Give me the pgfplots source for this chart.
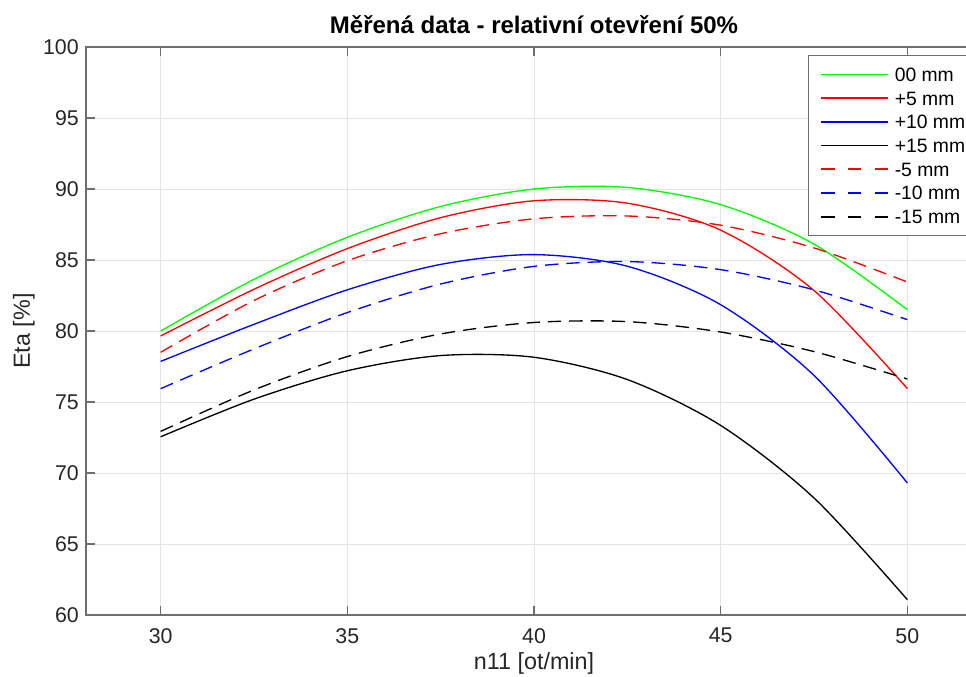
\documentclass[border=0pt]{standalone}
\usepackage{fontspec}
\setmainfont{Liberation Sans}
\usepackage{pgfplots}
\pgfplotsset{compat=1.18}
\usetikzlibrary{calc}

\definecolor{lineGreen}{RGB}{0,255,0}
\definecolor{lineRed}{RGB}{255,0,0}
\definecolor{lineBlue}{RGB}{0,0,255}
\definecolor{lineBlack}{RGB}{0,0,0}
\definecolor{axisGrey}{HTML}{6e6e6e}
\definecolor{gridGrey}{HTML}{e3e3e3}
\definecolor{tickInk}{HTML}{262626}

% legend samples as coloured rules
\newcommand{\legsolid}[1]{\textcolor{#1}{\rule[-0.6pt]{50pt}{1.2pt}}}
\newcommand{\legdash}[1]{\textcolor{#1}{\rule[-0.6pt]{10pt}{1.2pt}\hspace{10pt}%
  \rule[-0.6pt]{10pt}{1.2pt}\hspace{10pt}\rule[-0.6pt]{10pt}{1.2pt}}}

\pgfplotsset{
  solidline/.style={line width=1pt, smooth},
  dashline/.style={line width=1pt, smooth, dash pattern=on 10pt off 6pt},
  legimg/.style={legend image code/.code={%
    \node[inner sep=0pt, text height=0.6pt, text depth=0.6pt, anchor=base west]
      at (0pt,0pt) {#1};}},
}

\begin{document}
\begin{tikzpicture}
\begin{axis}[
  name=ax,
  scale only axis,
  width=672pt, height=426pt,
  xmin=28, xmax=52, ymin=60, ymax=100,
  xtick={30,35,...,50}, ytick={60,65,...,100},
  tick align=inside, major tick length=6.75pt,
  axis line style={draw=axisGrey, line width=0.9pt},
  tick style={draw=axisGrey, line width=0.8pt},
  grid=major, grid style={draw=gridGrey, line width=0.7pt},
  /pgf/number format/assume math mode=true,
  ticklabel style={font=\fontsize{16}{19}\selectfont, text=tickInk},
  xticklabel style={inner sep=0pt, anchor=north, yshift=-9.75pt},
  yticklabel style={inner sep=0pt, anchor=east, xshift=-5.25pt},
  title={\textbf{Měřená data - relativní otevření 50\%}},
  title style={at={(axis description cs:0.5,1)}, anchor=base, yshift=4pt,
    font=\fontsize{18}{21}\selectfont},
  xlabel={n11 [ot/min]},
  xlabel style={at={(axis description cs:0.5,0)}, anchor=base, yshift=-41pt,
    font=\fontsize{17.5}{20}\selectfont, text=tickInk},
  ylabel={Eta [\%]},
  ylabel style={at={($(axis description cs:0,0.5)+(-42pt,0pt)$)}, anchor=base,
    font=\fontsize{17.5}{20}\selectfont, text=tickInk},
  legend cell align=left,
  legend style={at={(axis description cs:1,1)}, anchor=north east,
    xshift=-2.25pt, yshift=-6pt,
    draw=axisGrey, line width=0.8pt, fill=white,
    font=\fontsize{14.5}{17}\selectfont,
    inner xsep=10pt, inner ysep=5.2pt, row sep=0pt, column sep=5pt,
    nodes={inner sep=0pt, text height=10.5pt, text depth=0pt, inner ysep=3.65pt}},
]
\addplot[lineGreen, solidline, forget plot] coordinates {
  (30,80.0) (32.5,83.64) (35,86.6) (37.5,88.77) (40,90.0)
  (42.5,90.11) (45,88.9) (47.5,86.12) (50,81.5)};
\addplot[lineRed, solidline, forget plot] coordinates {
  (30,79.65) (32.5,82.94) (35,85.8) (37.5,87.98) (40,89.17)
  (42.5,89.0) (45,87.1) (47.5,82.85) (50,75.95)};
\addplot[lineBlue, solidline, forget plot] coordinates {
  (30,77.86) (32.5,80.47) (35,82.9) (37.5,84.69) (40,85.38)
  (42.5,84.56) (45,81.85) (47.5,76.87) (50,69.3)};
\addplot[lineBlack, solidline, forget plot] coordinates {
  (30,72.55) (32.5,75.2) (35,77.2) (37.5,78.27) (40,78.15)
  (42.5,76.58) (45,73.35) (47.5,68.24) (50,61.08)};
\addplot[lineRed, dashline, forget plot] coordinates {
  (30,78.5) (32.5,82.15) (35,84.95) (37.5,86.85) (40,87.9)
  (42.5,88.1) (45,87.45) (47.5,85.85) (50,83.45)};
\addplot[lineBlue, dashline, forget plot] coordinates {
  (30,75.94) (32.5,78.74) (35,81.3) (37.5,83.31) (40,84.55)
  (42.5,84.89) (45,84.32) (47.5,82.9) (50,80.8)};
\addplot[lineBlack, dashline, forget plot] coordinates {
  (30,72.93) (32.5,75.85) (35,78.2) (37.5,79.79) (40,80.6)
  (42.5,80.66) (45,79.93) (47.5,78.55) (50,76.62)};

\addlegendimage{legimg={\legsolid{lineGreen}}}
\addlegendentry{00 mm}
\addlegendimage{legimg={\legsolid{lineRed}}}
\addlegendentry{+5 mm}
\addlegendimage{legimg={\legsolid{lineBlue}}}
\addlegendentry{+10 mm}
\addlegendimage{legimg={\legsolid{lineBlack}}}
\addlegendentry{+15 mm}
\addlegendimage{legimg={\legdash{lineRed}}}
\addlegendentry{-5 mm}
\addlegendimage{legimg={\legdash{lineBlue}}}
\addlegendentry{-10 mm}
\addlegendimage{legimg={\legdash{lineBlack}}}
\addlegendentry{-15 mm}
\end{axis}
\pgfresetboundingbox
\path[use as bounding box] ($(ax.south west)+(-64.5pt,-46.5pt)$) rectangle ($(ax.north east)+(-12pt,35.25pt)$);
\end{tikzpicture}
\end{document}
